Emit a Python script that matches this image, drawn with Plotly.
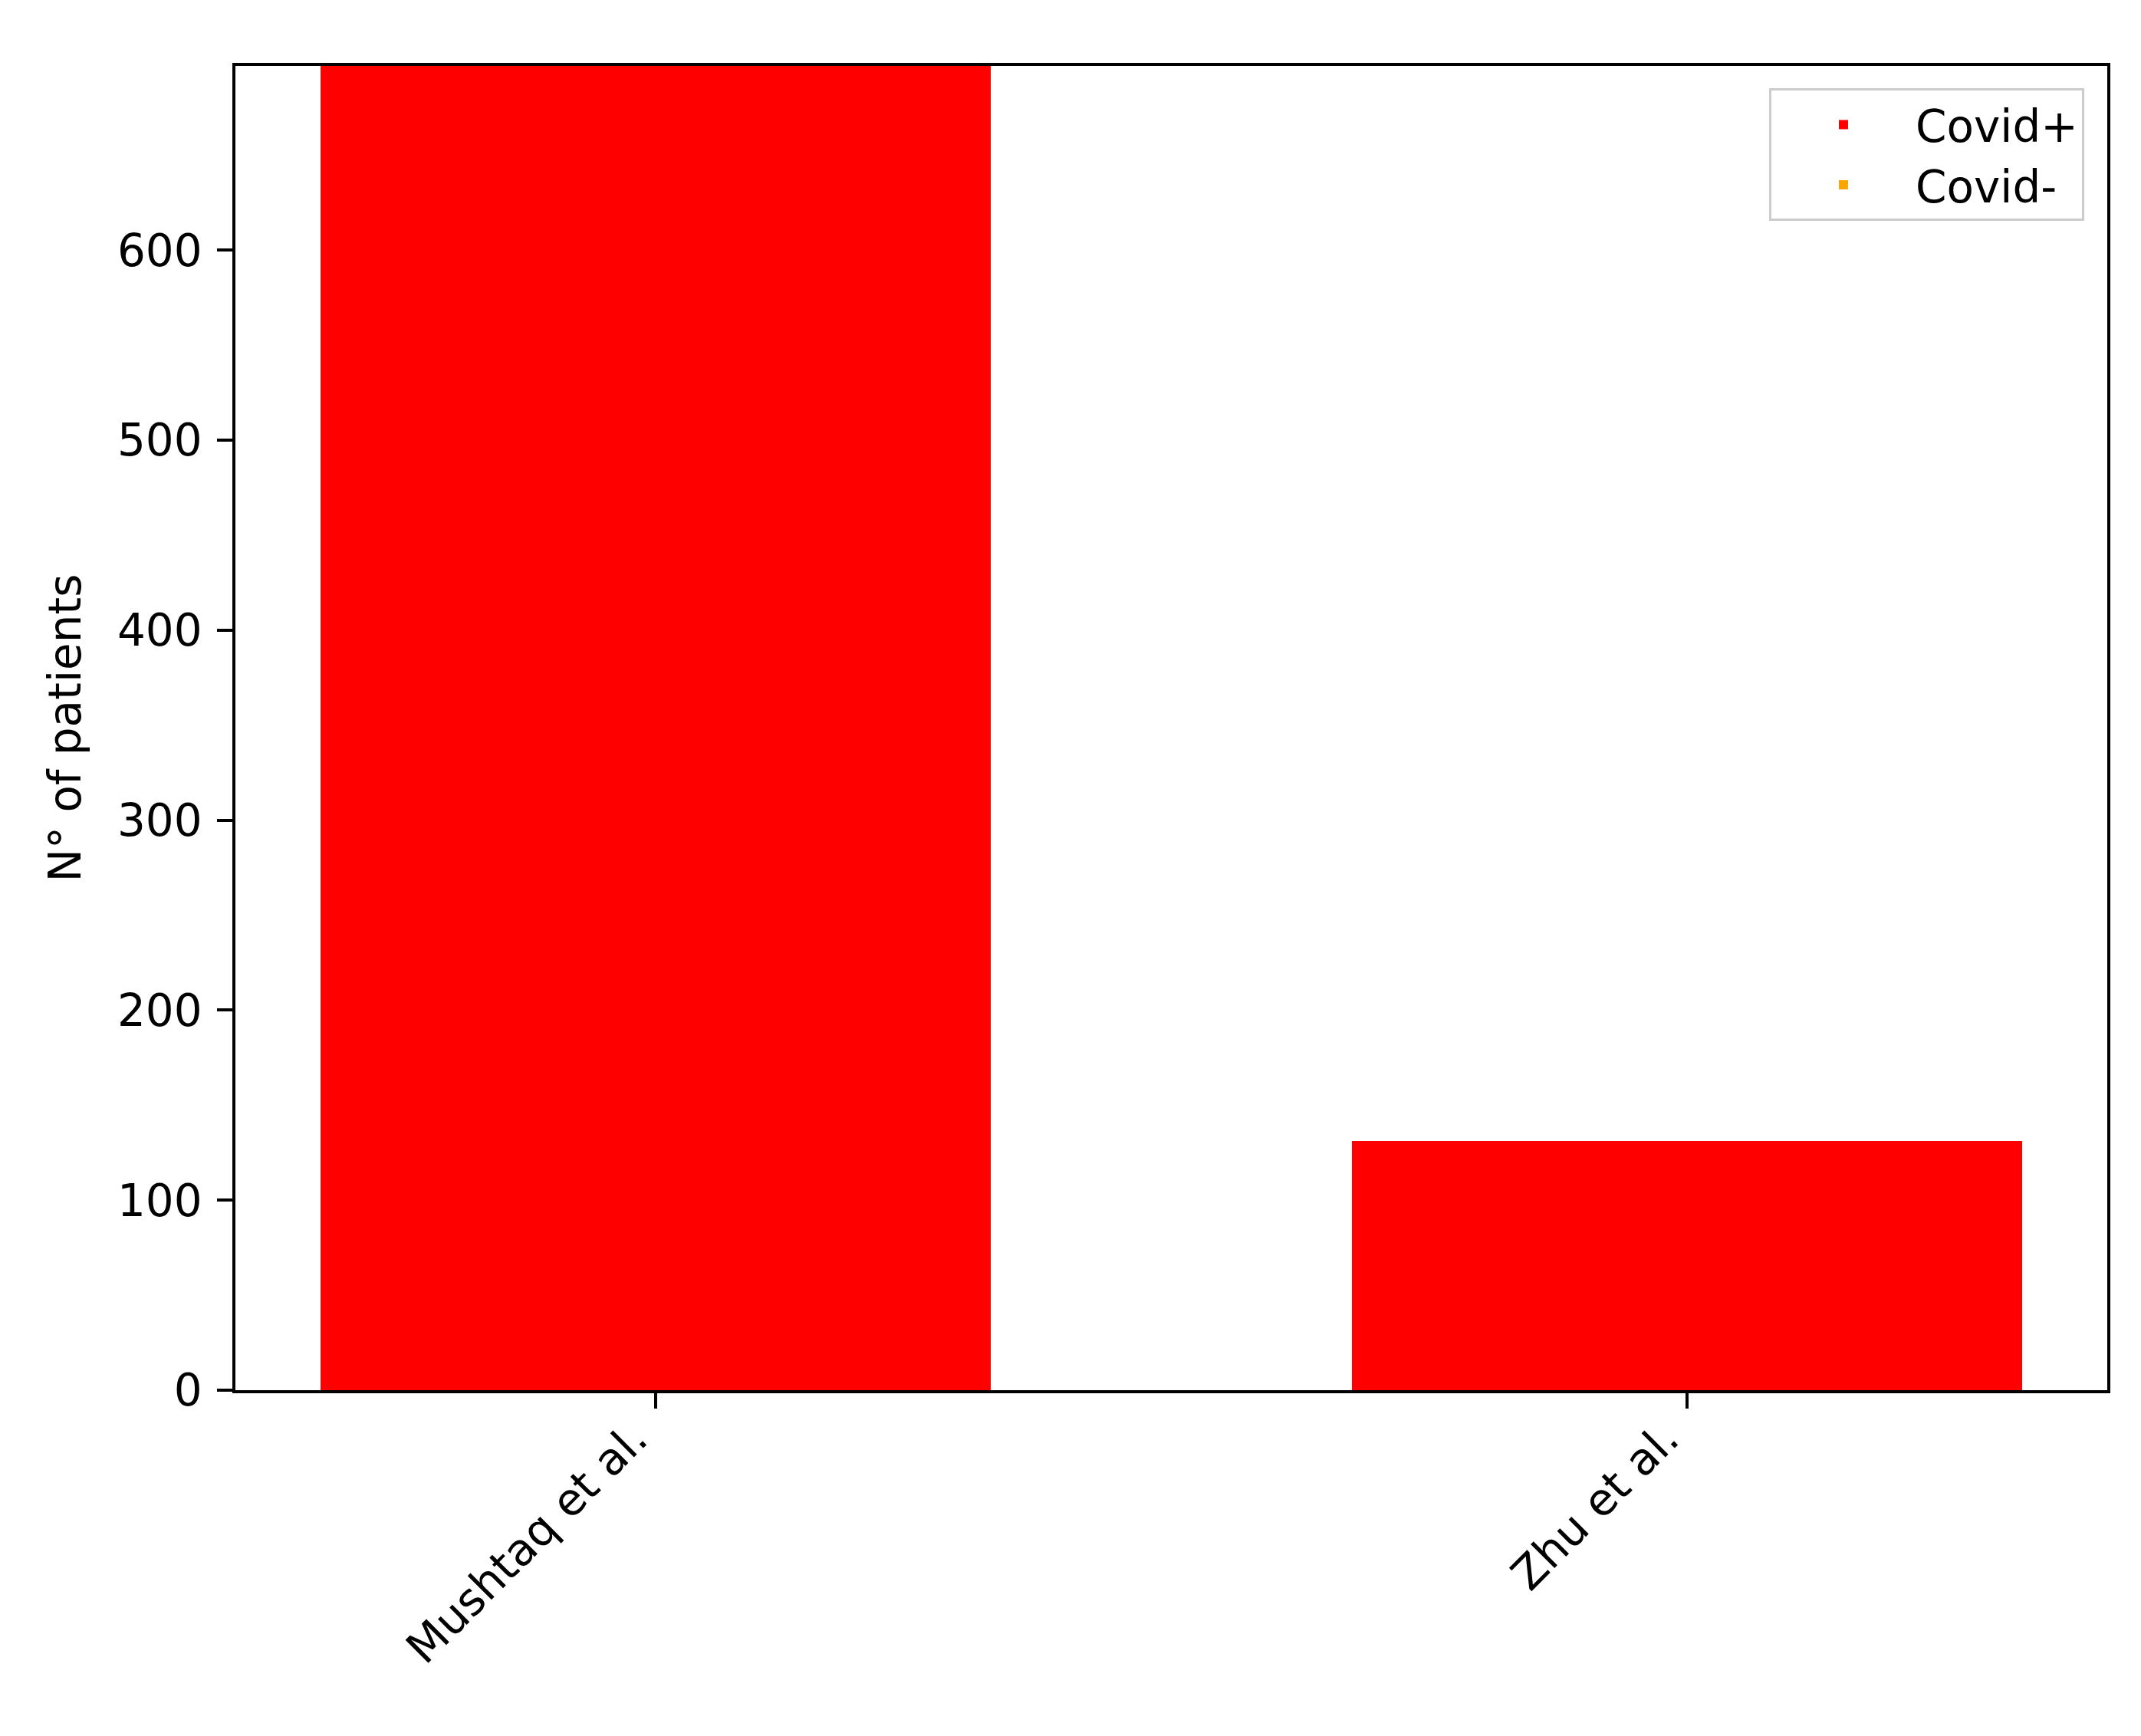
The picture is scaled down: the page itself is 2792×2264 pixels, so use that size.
import plotly.graph_objects as go

studies = ["Mushtaq et al.", "Zhu et al."]
covid_pos = [697, 131]
covid_neg = [0, 0]
y_ticks = [0, 100, 200, 300, 400, 500, 600]

FONT = dict(family="DejaVu Sans", size=58, color="black")

fig = go.Figure(
    [
        go.Bar(x=studies, y=covid_pos, name="Covid+", marker_color="#ff0000",
               marker_line_width=0, width=0.65),
        go.Bar(x=studies, y=covid_neg, name="Covid-", marker_color="#ffa500",
               marker_line_width=0, width=0.65),
    ]
)

axis_common = dict(
    showline=True,
    linecolor="black",
    linewidth=3.5,
    mirror=True,
    ticks="outside",
    ticklen=20,
    tickwidth=3.5,
    tickcolor="black",
    showgrid=False,
    zeroline=False,
    tickfont=FONT,
)

# page body has an 8px margin, so the plot box is shifted by that
fig.update_layout(
    width=2792,
    height=2264,
    margin=dict(l=299, r=52, t=78, b=459),
    barmode="stack",
    plot_bgcolor="white",
    paper_bgcolor="white",
    font=FONT,
    xaxis=dict(axis_common, range=[-0.4075, 1.4075], tickangle=-45,
               ticklabelstandoff=-18, ticklabelshift=-28),
    yaxis=dict(
        axis_common,
        range=[0, max(covid_pos)],
        tickvals=y_ticks,
        ticklabelstandoff=8,
        title=dict(text="N° of patients", font=FONT, standoff=30),
    ),
    legend=dict(
        x=0.9877,
        y=0.983,
        xanchor="right",
        yanchor="top",
        bgcolor="white",
        bordercolor="#cccccc",
        borderwidth=3,
        font=FONT,
        itemwidth=178,
        traceorder="normal",
    ),
    bargap=0,
)

fig.write_html("out.html")
